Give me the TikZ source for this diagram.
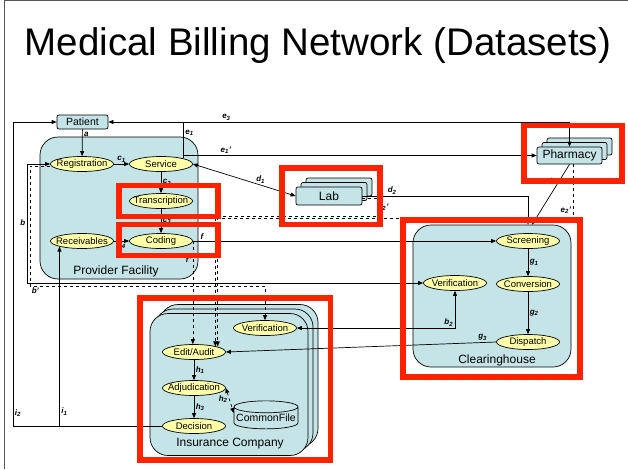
\documentclass[tikz,border=0pt]{standalone}
\usepackage{fontspec}
\setmainfont{Liberation Sans}
\usetikzlibrary{
    shapes.geometric, arrows.meta, positioning, calc, shadows
}
\definecolor{boxCyan}{HTML}{C5E4E8}
\definecolor{ovalYellow}{HTML}{FFFFAA}
\definecolor{markRed}{HTML}{FF2200}
\definecolor{slideGray}{HTML}{555555}

\tikzset{
    area/.style={draw, fill=boxCyan, rounded corners=18pt, minimum width=158pt, minimum height=142pt},
    task/.style={ellipse, draw, fill=ovalYellow, minimum width=63pt, minimum height=15pt,
        inner xsep=-6pt, inner ysep=0pt, font=\fontsize{9.5}{10}\selectfont},
    party/.style={draw, fill=boxCyan, rounded corners=2pt, inner sep=0pt, font=\fontsize{12}{12}\selectfont},
    stack/.style={
        copy shadow={shadow xshift=10pt, shadow yshift=9pt, fill=boxCyan, draw},
        copy shadow={shadow xshift=5pt, shadow yshift=4.5pt, fill=boxCyan, draw}},
    lbl/.style={font=\fontsize{8}{8}\selectfont\bfseries\itshape, inner sep=1.5pt},
    hilite/.style={draw=markRed, line width=5.5pt},
    caption/.style={font=\fontsize{12}{12}\selectfont}
}

\begin{document}
\begin{tikzpicture}[x=1pt, y=-1pt, line width=0.7pt, >={Triangle[length=5pt,width=4pt]}]
    \useasboundingbox (0,0) rectangle (628,469);

    % Slide frame and title
    \draw[slideGray, line width=0.8pt] (628,0.5) -- (4.5,0.5) -- (4.5,469);
    \node[font=\fontsize{38.5}{40}\selectfont] (title) at (318,46) {Medical Billing Network (Datasets)};

    % Containers
    \node[area] (prov) at (119,208) {};
    \node[area] (ch) at (492,296) {};
    \node[area, stack] (ins) at (229,384.5) {};
    \node[caption] (provlbl) at (116,271) {Provider Facility};
    \node[caption] (chlbl) at (497,360) {Clearinghouse};
    \node[caption] (inslbl) at (230,444) {Insurance Company};

    % Outside parties
    \node[party, minimum width=51pt, minimum height=14pt, font=\fontsize{10.5}{10.5}\selectfont] (patient) at (82.5,122) {Patient};
    \node[party, stack, minimum width=66pt, minimum height=18pt] (lab) at (329,196) {Lab};
    \node[party, stack, minimum width=65pt, minimum height=17pt] (pharm) at (569.5,155.5) {Pharmacy};

    % Provider facility
    \node[task] (reg) at (82,164) {Registration};
    \node[task] (serv) at (161,164) {Service};
    \node[task] (trans) at (161,201) {Transcription};
    \node[task] (recv) at (82,241) {Receivables};
    \node[task] (cod) at (161,241) {Coding};

    % Clearinghouse
    \node[task] (scr) at (528,241) {Screening};
    \node[task] (conv) at (528,284) {Conversion};
    \node[task] (cver) at (455,283) {Verification};
    \node[task] (disp) at (528,342) {Dispatch};

    % Insurance company
    \node[task] (iver) at (265,328) {Verification};
    \node[task] (edit) at (194,352) {Edit/Audit};
    \node[task] (adj) at (194,388) {Adjudication};
    \node[task] (dec) at (194,426) {Decision};
    \node[cylinder, shape border rotate=90, aspect=0.2, draw, fill=boxCyan, minimum width=64pt, minimum height=28pt,
        inner sep=0pt, font=\fontsize{10.5}{10.5}\selectfont] (cfile) at (266,418) {CommonFile};

    % Bend points
    \coordinate (dtwo) at (378,216);
    \coordinate (etwo) at (573,218.5);
    \coordinate (bcorner) at (27,283);
    \coordinate (bpcorner) at (30,286);
    \coordinate (icorner) at (13,426);
    \coordinate (chtop) at (ch.north -| scr);

    % Flows inside the provider
    \draw[->] (patient) -- node[lbl, right, pos=0.2] (la) {a} (reg);
    \draw[->] (reg) -- node[lbl, above] (lc1) {c\textsubscript{1}} (serv);
    \draw[->] (serv) -- node[lbl, right] (lc2) {c\textsubscript{2}} (trans);
    \draw[->] (trans) -- node[lbl, right] (lc3) {c\textsubscript{3}} (cod);
    \draw[->] (recv) -- node[lbl, below] (lc4) {c\textsubscript{4}} (cod);

    % Lab and pharmacy
    \draw[<->] (serv.east) -- node[lbl, above, pos=0.66] (ld1) {d\textsubscript{1}} (lab.west);
    \draw[->] (lab.east) -| node[lbl, above, pos=0.09] (ld2) {d\textsubscript{2}} (chtop);
    \draw[dashed, ->] ([yshift=-2pt]lab.east) -| (dtwo) -| ([xshift=-1.2pt]edit.north east);
    \node[lbl] (ld2p) at (383,207) {d\textsubscript{2}'};
    \draw[<->] (patient.east) -| node[lbl, above, pos=0.128] (le3) {e\textsubscript{3}} (pharm.north);
    \draw (serv.north east) -- node[lbl, right, pos=0.7] (le1) {e\textsubscript{1}} (serv.north east |- patient.east);
    \draw[->] (serv.north east) |- node[lbl, above, pos=0.56] (le1p) {e\textsubscript{1}'} (pharm.west);
    \draw[->] (pharm.south) -- node[lbl, left, pos=0.27] (le2) {e\textsubscript{2}} ([xshift=4pt]chtop);
    \draw[dashed, ->] ([xshift=3.5pt]pharm.south) -- node[lbl, left, pos=0.85] (le2p) {e\textsubscript{2}'} (etwo) -| ([xshift=1.2pt]edit.north east);

    % Claims out of coding
    \draw[->] (cod.east) -- node[lbl, above, pos=0.03] (lf) {f} (scr.west);
    \draw[dashed, ->] (cod.east) -- node[lbl, left, pos=0.18] (lfp) {f'} (cod.east |- edit.north);

    % Eligibility checks
    \draw[<->] (reg.west) -| node[lbl, left, pos=0.745] (lb) {b} (bcorner) -- node[lbl, below, pos=0.95] (lbb) {b} (cver.west);
    \draw[dashed, ->] ([yshift=-2pt]reg.west) -| (bpcorner) node[lbl, below right] (lbp) {b'} -| (iver.north);
    \draw[<->] (cver.south) |- node[lbl, above left, pos=0.5] (lb2) {b\textsubscript{2}} (iver.east);

    % Clearinghouse flow
    \draw[->] (scr) -- node[lbl, right] (lg1) {g\textsubscript{1}} (conv);
    \draw[->] (conv) -- node[lbl, right] (lg2) {g\textsubscript{2}} (disp);
    \draw[->] (disp.west) -- node[lbl, above, pos=0.05] (lg3) {g\textsubscript{3}} (edit.east);

    % Insurance flow
    \draw[->] (edit) -- node[lbl, right] (lh1) {h\textsubscript{1}} (adj);
    \draw[->] (adj) -- node[lbl, right] (lh3) {h\textsubscript{3}} (dec);
    \draw[dashed, <->] (adj.east) -- node[lbl, left, pos=0.45] (lh2) {h\textsubscript{2}} ([yshift=5pt]cfile.west);

    % Payments back
    \draw[->] (dec.west) -| node[lbl, right, pos=0.54] (li1) {i\textsubscript{1}} (recv.south west);
    \draw[->] (dec.west) -- (icorner) |- node[lbl, right, pos=0.021] (li2) {i\textsubscript{2}} (patient.west);

    % Highlights
    \draw[hilite] (282,168) rectangle (380,224.5);
    \draw[hilite] (119,185.5) rectangle (218,216.5);
    \draw[hilite] (119,224.5) rectangle (218,255.5);
    \draw[hilite] (524,125.5) rectangle (622,181);
    \draw[hilite] (403,220) rectangle (580,377);
    \draw[hilite] (140,298) rectangle (330.5,460);
\end{tikzpicture}
\end{document}
